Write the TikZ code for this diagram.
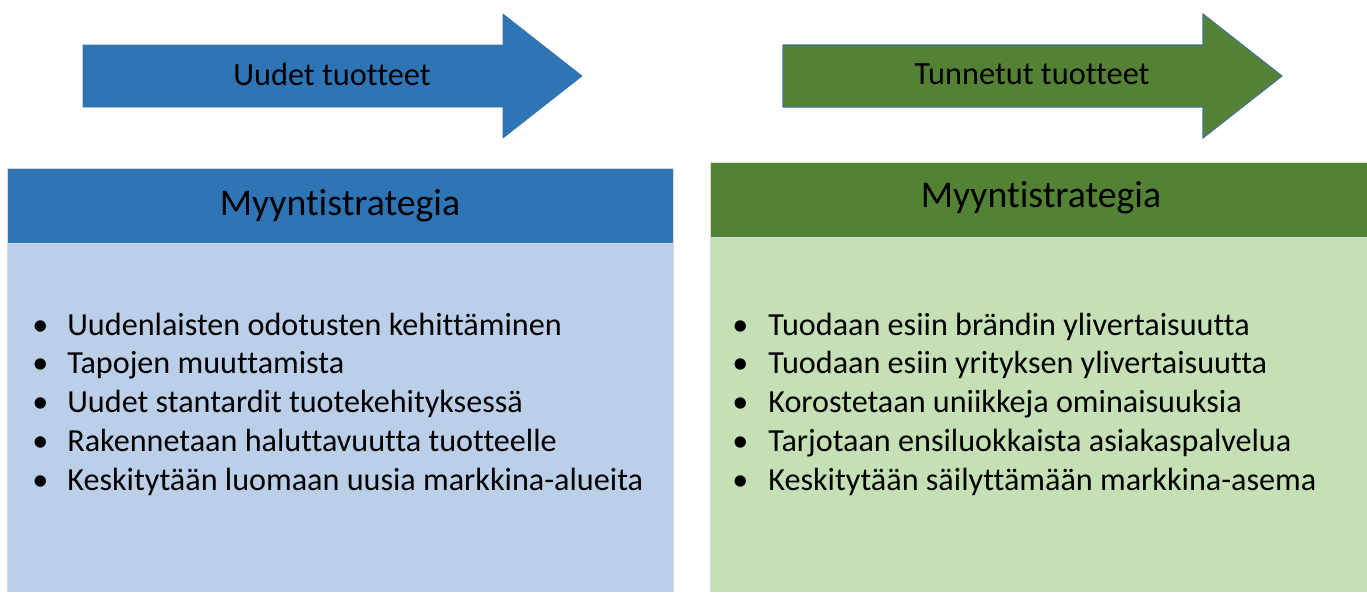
\documentclass[tikz,border=0pt]{standalone}
\usepackage{fontspec}
\setmainfont{Carlito}[Ligatures=NoCommon]
\usetikzlibrary{positioning}
\definecolor{darkblue}{HTML}{2E75B6}
\definecolor{lightblue}{HTML}{BBCFE8}
\definecolor{darkgreen}{HTML}{548235}
\definecolor{lightgreen}{HTML}{C5E0B4}
\definecolor{edgeblue}{HTML}{41719C}

\begin{document}
\begin{tikzpicture}[x=0.2mm, y=-0.2mm,
  arrowlabel/.style={font=\fontsize{18.4}{22}\selectfont, text=black, inner sep=0pt},
  headlabel/.style={font=\fontsize{21.5}{26}\selectfont, text=black, inner sep=0pt},
  itemtext/.style={font=\fontsize{18.3}{22}\selectfont, anchor=base west, inner sep=0pt}]
  \useasboundingbox (0,0) rectangle (1367,592);

  % Nuolet
  \filldraw[fill=darkblue, draw=edgeblue, line width=0.4pt]
    (83,45) -- (503,45) -- (503,14) -- (582,76) -- (503,138) -- (503,107) -- (83,107) -- cycle;
  \filldraw[fill=darkgreen, draw=edgeblue, line width=0.6pt]
    (783,45) -- (1203,45) -- (1203,14) -- (1282,76) -- (1203,138) -- (1203,107) -- (783,107) -- cycle;
  \node[arrowlabel] (uudet) at (332,74) {Uudet tuotteet};
  \node[arrowlabel] (tunnetut) at (1032,74) {Tunnetut tuotteet};

  % Laatikot
  \fill[lightblue] (7,243) rectangle (673,592);
  \filldraw[fill=darkblue, draw=black!15] (7,168) rectangle (673,243);
  \draw[black!15] (7,243) -- (7,592) (673,243) -- (673,592);
  \fill[lightgreen] (710,237) rectangle (1372,592);
  \filldraw[fill=darkgreen, draw=black!15] (710,162) rectangle (1372,237);
  \draw[black!15] (710,237) -- (710,592);
  \node[headlabel] (otsikko1) at (340,206) {Myyntistrategia};
  \node[headlabel] (otsikko2) at (1041,198) {Myyntistrategia};

  % Listat
  \foreach \teksti [count=\i] in {Uudenlaisten odotusten kehittäminen, Tapojen muuttamista,
      Uudet stantardit tuotekehityksessä, Rakennetaan haluttavuutta tuotteelle,
      Keskitytään luomaan uusia markkina-alueita}
    \node[itemtext] (vasen\i) at (32,{335+(\i-1)*38.9}) {\makebox[0.7cm][l]{\textbullet}\teksti};
  \foreach \teksti [count=\i] in {Tuodaan esiin brändin ylivertaisuutta, Tuodaan esiin yrityksen ylivertaisuutta,
      Korostetaan uniikkeja ominaisuuksia, Tarjotaan ensiluokkaista asiakaspalvelua,
      Keskitytään säilyttämään markkina-asema}
    \node[itemtext] (oikea\i) at (732,{335+(\i-1)*38.9}) {\makebox[0.72cm][l]{\textbullet}\teksti};
\end{tikzpicture}
\end{document}
